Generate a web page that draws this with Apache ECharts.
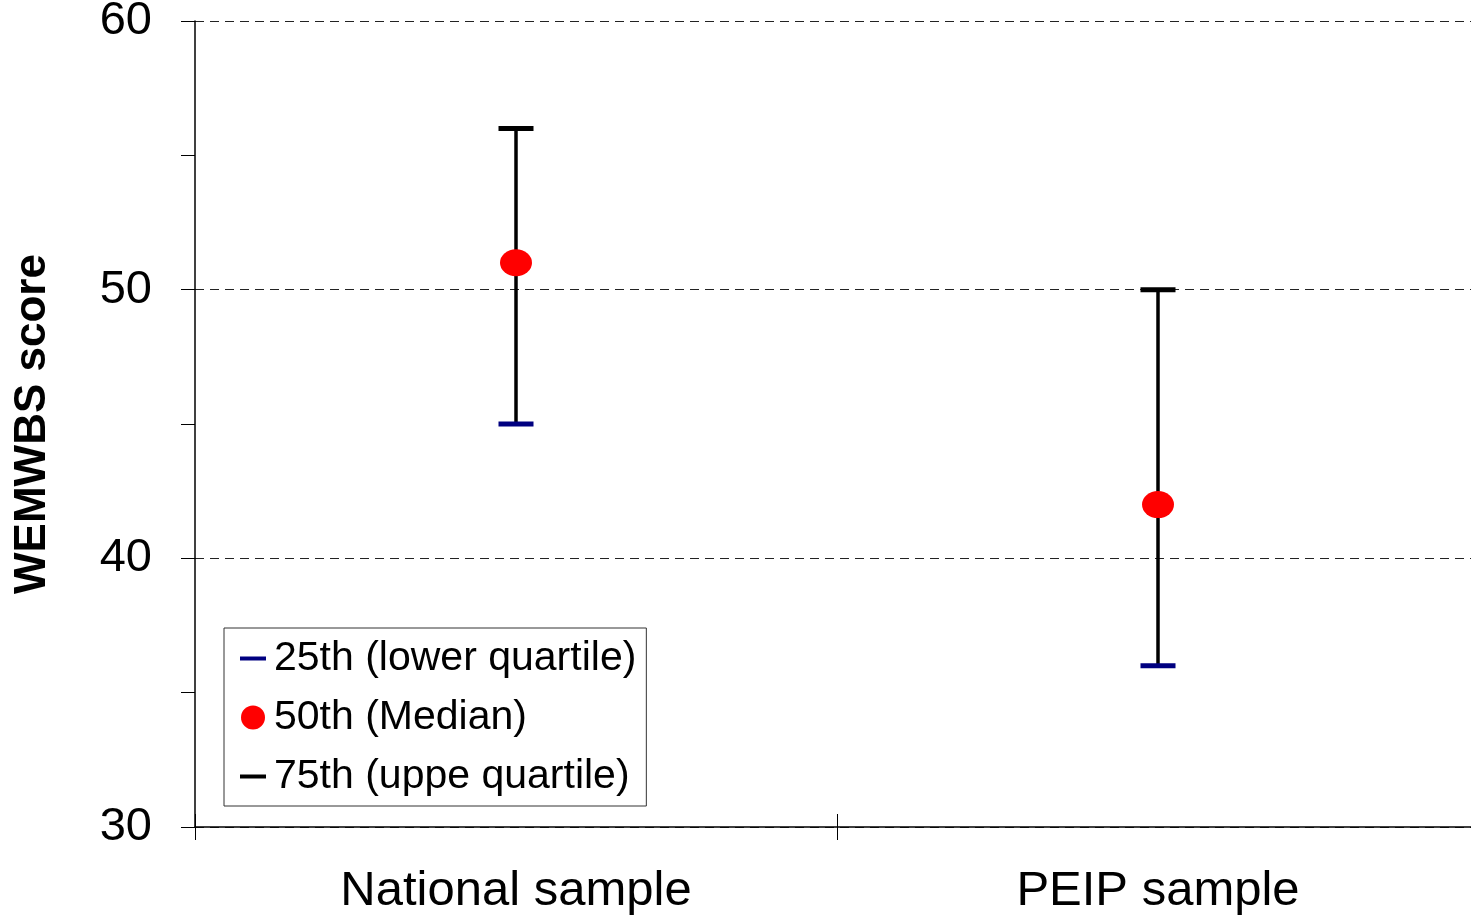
<!DOCTYPE html>
<html>
<head>
<meta charset="utf-8">
<script src="https://cdn.jsdelivr.net/npm/echarts@6/dist/echarts.min.js"></script>
<style>
html,body{margin:0;padding:0;background:#fff;}
#chart{width:1471px;height:915px;}
</style>
</head>
<body>
<div id="chart"></div>
<script>
const categories = ['National sample', 'PEIP sample'];
const p25 = [45, 36];
const p50 = [51, 42];
const p75 = [56, 50];
const yTicks = [30, 40, 50, 60];
const legendNames = ['25th (lower quartile)', '50th (Median)', '75th (uppe quartile)'];

const FONT = '"Liberation Sans", Arial, sans-serif';
const chart = echarts.init(document.getElementById('chart'));

const whiskerData = categories.map((c, i) => [i, p25[i], p75[i]]);

chart.setOption({
  animation: false,
  backgroundColor: '#fff',
  textStyle: { fontFamily: FONT },
  grid: { left: 195, top: 21, width: 1284, height: 806, containLabel: false, outerBoundsMode: 'none' },
  xAxis: [{
    type: 'category',
    data: categories,
    boundaryGap: true,
    axisLine: { show: true, lineStyle: { color: '#000', width: 1.5 } },
    axisTick: { show: true, length: 13, lineStyle: { color: '#000', width: 1 } },
    axisLabel: { color: '#000', fontSize: 49, fontFamily: FONT, margin: 40 },
    splitLine: { show: false }
  }, {
    type: 'category',
    data: categories,
    position: 'bottom',
    boundaryGap: true,
    axisLine: { show: false },
    axisTick: { show: true, inside: true, length: 13, lineStyle: { color: '#000', width: 1 } },
    axisLabel: { show: false },
    splitLine: { show: false }
  }],
  yAxis: {
    type: 'value',
    min: yTicks[0],
    max: yTicks[yTicks.length - 1],
    interval: 10,
    name: 'WEMWBS score',
    nameLocation: 'middle',
    nameRotate: 90,
    nameGap: 140,
    nameTextStyle: { color: '#000', fontSize: 44, fontWeight: 'bold', fontFamily: FONT },
    axisLine: { show: true, lineStyle: { color: '#000', width: 1.5 } },
    axisTick: { show: true, length: 14, lineStyle: { color: '#000', width: 1 } },
    minorTick: { show: true, splitNumber: 2, length: 14, lineStyle: { color: '#000', width: 1 } },
    axisLabel: { color: '#000', fontSize: 47, fontFamily: FONT, margin: 43 },
    splitLine: { show: true, lineStyle: { color: '#222', width: 1, type: [9, 6] } }
  },
  legend: {
    orient: 'vertical',
    left: 224,
    top: 628,
    padding: [10, 10, 9, 16],
    itemGap: 18,
    itemWidth: 26,
    itemHeight: 24,
    borderColor: '#333',
    borderWidth: 1,
    backgroundColor: '#fff',
    textStyle: { color: '#000', fontSize: 41, fontFamily: FONT, lineHeight: 40, padding: [0, 0, 0, 3] },
    data: [
      { name: legendNames[0], icon: 'path://M0,0H26V4H0Z', itemStyle: { color: '#000080', opacity: 1 } },
      { name: legendNames[1], icon: 'circle', itemStyle: { color: '#ff0000', opacity: 1 } },
      { name: legendNames[2], icon: 'path://M0,0H26V4H0Z', itemStyle: { color: '#000', opacity: 1 } }
    ]
  },
  series: [
    {
      type: 'custom',
      name: 'whisker',
      silent: true,
      z: 1,
      renderItem: function (params, api) {
        const x = api.value(0);
        const lo = api.coord([x, api.value(1)]);
        const hi = api.coord([x, api.value(2)]);
        return {
          type: 'line',
          shape: { x1: lo[0], y1: lo[1], x2: hi[0], y2: hi[1] },
          style: { stroke: '#000', lineWidth: 3.5 }
        };
      },
      encode: { x: 0, y: [1, 2] },
      data: whiskerData
    },
    {
      type: 'scatter',
      name: legendNames[0],
      symbol: 'rect',
      symbolSize: [35, 5],
      itemStyle: { color: '#000080', opacity: 1 },
      z: 3,
      data: p25
    },
    {
      type: 'scatter',
      name: legendNames[1],
      symbol: 'circle',
      symbolSize: [32, 27],
      itemStyle: { color: '#ff0000', opacity: 1 },
      z: 4,
      data: p50
    },
    {
      type: 'scatter',
      name: legendNames[2],
      symbol: 'rect',
      symbolSize: [35, 5],
      itemStyle: { color: '#000', opacity: 1 },
      z: 3,
      data: p75
    }
  ]
});
</script>
</body>
</html>
